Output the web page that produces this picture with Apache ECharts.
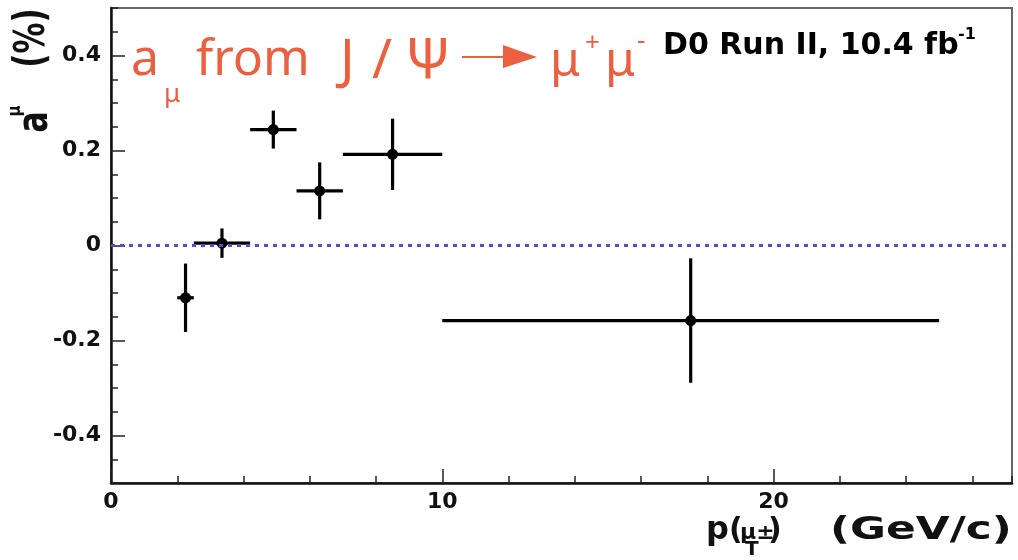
<!DOCTYPE html>
<html><head><meta charset="utf-8">
<script src="https://cdn.jsdelivr.net/npm/echarts@6/dist/echarts.min.js"></script>
<style>html,body{margin:0;padding:0;background:#fff}#c{width:1018px;height:560px}</style>
</head><body><div id="c"></div>
<script>
// ---- data ----
const binLow    = [2.0, 2.5, 4.2, 5.6, 7.0, 10.0];
const binHigh   = [2.5, 4.2, 5.6, 7.0, 10.0, 25.0];
const ptCenter  = [2.25, 3.35, 4.9, 6.3, 8.5, 17.5];
const asym      = [-0.110, 0.005, 0.244, 0.115, 0.192, -0.158];
const asymErr   = [0.072, 0.031, 0.040, 0.060, 0.075, 0.131];
const xMajorTicks = [0, 10, 20];
const yMajorTicks = [-0.4, -0.2, 0, 0.2, 0.4];
const xRange = [0, 27.2];
const yRange = [-0.5, 0.5];

const ROOT_FONT = 'DejaVu Sans';
const ORANGE = '#ea6040';

const chart = echarts.init(document.getElementById('c'), null, {renderer: 'canvas'});

const points = ptCenter.map((x, i) => [x, asym[i], binLow[i], binHigh[i], asymErr[i]]);

const labelStyle = {fontFamily: ROOT_FONT, fontWeight: 'bold', fontSize: 22, color: '#111'};

const option = {
  backgroundColor: '#fff',
  animation: false,
  grid: {left: 111, right: 6, top: 8, bottom: 77, show: true, borderColor: '#666', borderWidth: 2, backgroundColor: 'transparent'},
  xAxis: [
    {type: 'value', min: xRange[0], max: xRange[1], position: 'bottom',
     axisLine: {show: true, onZero: false, lineStyle: {color: '#111', width: 2.5}},
     axisTick: {show: true, inside: true, length: 14, customValues: xMajorTicks, lineStyle: {color: '#222', width: 1.5}},
     axisLabel: Object.assign({customValues: xMajorTicks, margin: 8}, labelStyle),
     splitLine: {show: false}},
    {type: 'value', min: xRange[0], max: xRange[1], interval: 2, position: 'bottom',
     axisLine: {show: false, onZero: false}, axisLabel: {show: false}, splitLine: {show: false},
     axisTick: {show: true, inside: true, length: 7, lineStyle: {color: '#222', width: 1.5}}}
  ],
  yAxis: [
    {type: 'value', min: yRange[0], max: yRange[1], position: 'left',
     axisLine: {show: true, onZero: false, lineStyle: {color: '#111', width: 2.5}},
     axisTick: {show: true, inside: true, length: 14, customValues: yMajorTicks, lineStyle: {color: '#222', width: 1.5}},
     axisLabel: Object.assign({customValues: yMajorTicks, margin: 10}, labelStyle),
     splitLine: {show: false}},
    {type: 'value', min: yRange[0], max: yRange[1], interval: 0.05, position: 'left',
     axisLine: {show: false, onZero: false}, axisLabel: {show: false}, splitLine: {show: false},
     axisTick: {show: true, inside: true, length: 7, lineStyle: {color: '#222', width: 1.5}}}
  ],
  series: [{
    type: 'custom',
    xAxisIndex: 0, yAxisIndex: 0,
    data: points,
    encode: {x: 0, y: 1},
    z: 5,
    renderItem: function (params, api) {
      const xc = api.value(0), y = api.value(1), xl = api.value(2), xh = api.value(3), e = api.value(4);
      const pL = api.coord([xl, y]), pR = api.coord([xh, y]);
      const pT = api.coord([xc, y + e]), pB = api.coord([xc, y - e]);
      const pC = api.coord([xc, y]);
      return {type: 'group', children: [
        {type: 'line', shape: {x1: pL[0], y1: pL[1], x2: pR[0], y2: pR[1]}, style: {stroke: '#000', lineWidth: 3.2}},
        {type: 'line', shape: {x1: pT[0], y1: pT[1], x2: pB[0], y2: pB[1]}, style: {stroke: '#000', lineWidth: 3.2}},
        {type: 'circle', shape: {cx: pC[0], cy: pC[1], r: 5.5}, style: {fill: '#000'}}
      ]};
    },
    markLine: {
      silent: true, symbol: ['none', 'none'], z: 10,
      label: {show: false},
      lineStyle: {color: '#5a48d8', width: 3, type: [4, 5]},
      data: [{yAxis: 0}]
    }
  }],
  graphic: [
    // ROOT-style texts
    {type: 'text', x: 663, y: 46, style: {text: 'D0 Run II, 10.4 fb', font: 'bold 30px "DejaVu Sans"', fill: '#000', align: 'left', verticalAlign: 'middle'}},
    {type: 'text', x: 958, y: 35, style: {text: '-1', font: 'bold 16px "DejaVu Sans"', fill: '#000', align: 'left', verticalAlign: 'middle'}},
    // y-axis title (rotated)
    {type: 'text', x: 33, y: 38, rotation: Math.PI / 2, scaleY: 1.4, style: {text: '(%)', font: 'bold 31px "DejaVu Sans"', fill: '#111', align: 'center', verticalAlign: 'middle'}},
    {type: 'text', x: 36, y: 122, rotation: Math.PI / 2, scaleY: 1.35, style: {text: 'a', font: 'bold 32px "DejaVu Sans"', fill: '#111', align: 'center', verticalAlign: 'middle'}},
    {type: 'text', x: 15, y: 111, rotation: Math.PI / 2, scaleY: 1.2, style: {text: 'μ', font: 'bold 15px "DejaVu Sans"', fill: '#111', align: 'center', verticalAlign: 'middle'}},
    // x-axis title
    {type: 'text', x: 706, y: 531, style: {text: 'p', font: 'bold 32px "DejaVu Sans"', fill: '#111', align: 'left', verticalAlign: 'middle'}},
    {type: 'text', x: 745, y: 550, style: {text: 'T', font: 'bold 20px "DejaVu Sans"', fill: '#111', align: 'left', verticalAlign: 'middle'}},
    {type: 'text', x: 729, y: 531, style: {text: '(', font: 'bold 30px "DejaVu Sans"', fill: '#111', align: 'left', verticalAlign: 'middle'}},
    {type: 'text', x: 740, y: 533, style: {text: 'μ±', font: 'bold 22px "DejaVu Sans"', fill: '#111', align: 'left', verticalAlign: 'middle'}},
    {type: 'text', x: 768, y: 531, style: {text: ')', font: 'bold 30px "DejaVu Sans"', fill: '#111', align: 'left', verticalAlign: 'middle'}},
    {type: 'text', x: 830, y: 531, scaleX: 1.37, style: {text: '(GeV/c)', font: 'bold 32px "DejaVu Sans"', fill: '#111', align: 'left', verticalAlign: 'middle'}},
    // orange annotation
    {type: 'text', x: 131, y: 61, style: {text: 'a', font: '50px "Noto Sans"', fill: ORANGE, align: 'left', verticalAlign: 'middle'}},
    {type: 'text', x: 164, y: 95, style: {text: 'μ', font: '26px "Noto Sans"', fill: ORANGE, align: 'left', verticalAlign: 'middle'}},
    {type: 'text', x: 196, y: 61, style: {text: 'from', font: '50px "Noto Sans"', fill: ORANGE, align: 'left', verticalAlign: 'middle'}},
    {type: 'text', x: 340, y: 63, style: {text: 'J', font: '54px "Noto Sans"', fill: ORANGE, align: 'left', verticalAlign: 'middle'}},
    {type: 'text', x: 372, y: 63, style: {text: '/', font: '54px "Noto Sans"', fill: ORANGE, align: 'left', verticalAlign: 'middle'}},
    {type: 'text', x: 405, y: 63, style: {text: 'Ψ', font: '56px "Noto Sans"', fill: ORANGE, align: 'left', verticalAlign: 'middle'}},
    {type: 'line', shape: {x1: 462, y1: 57, x2: 506, y2: 57}, style: {stroke: ORANGE, lineWidth: 2}},
    {type: 'polygon', shape: {points: [[503, 45], [537, 57], [503, 68]]}, style: {fill: ORANGE}},
    {type: 'text', x: 550, y: 62, style: {text: 'μ', font: '48px "Noto Sans"', fill: ORANGE, align: 'left', verticalAlign: 'middle'}},
    {type: 'text', x: 585, y: 44, style: {text: '+', font: '26px "Noto Sans"', fill: ORANGE, align: 'left', verticalAlign: 'middle'}},
    {type: 'text', x: 605, y: 62, style: {text: 'μ', font: '48px "Noto Sans"', fill: ORANGE, align: 'left', verticalAlign: 'middle'}},
    {type: 'text', x: 637, y: 42, style: {text: '-', font: '26px "Noto Sans"', fill: ORANGE, align: 'left', verticalAlign: 'middle'}}
  ]
};
chart.setOption(option);
</script>
</body></html>
